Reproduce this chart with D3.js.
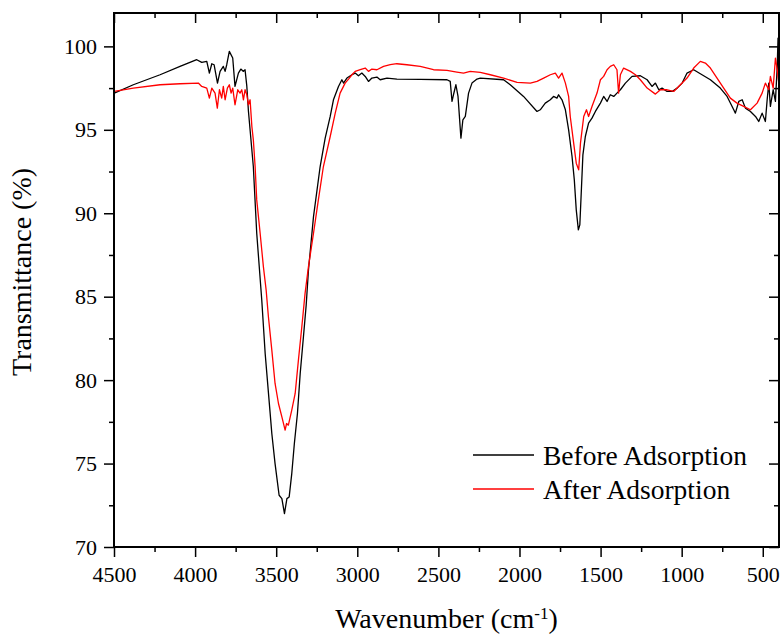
<!DOCTYPE html>
<html>
<head>
  <meta charset="utf-8">
  <title>FTIR before / after adsorption</title>
  <style>
    body { margin: 0; background: #fff; }
    svg text { font-family: "Liberation Serif", "Times New Roman", serif; fill: #000; }
  </style>
</head>
<body>
  <svg width="782" height="635"></svg>
  <script src="https://d3js.org/d3.v7.min.js"></script>
  <script>

  // 1. data: [wavenumber, transmittance]
  var beforeData = [
    [4498,97.2],[4381,97.7],[4216,98.3],[4093,98.8],[3990,99.2],[3959,99.04],[3928,99.1],[3912,98.4],
    [3897,98.96],[3883,98.9],[3862,97.8],[3846,98.5],[3826,98.8],[3815,98.5],[3805,98.9],[3789,99.7],
    [3768,99.3],[3754,97.6],[3733,98.4],[3718,98.64],[3702,98.5],[3692,98.6],[3681,97.6],[3671,96.1],
    [3641,92.8],[3620,88.8],[3589,84.8],[3568,81.6],[3538,78.1],[3527,76.8],[3507,75.0],[3482,73.1],
    [3465,72.9],[3449,72.0],[3434,72.9],[3420,73.0],[3404,74.4],[3388,76.2],[3369,78.0],[3352,80.4],
    [3332,82.6],[3315,84.5],[3301,86.6],[3270,89.8],[3229,92.8],[3198,94.5],[3167,95.8],[3147,96.8],
    [3116,97.6],[3095,98.0],[3085,97.8],[3064,98.1],[3033,98.3],[3013,98.4],[2993,98.24],[2972,98.4],
    [2951,98.2],[2931,97.9],[2910,98.1],[2879,98.16],[2859,98.0],[2817,98.1],[2756,98.04],[2612,98.02],
    [2447,98.0],[2427,97.9],[2416,96.7],[2407,97.1],[2392,97.7],[2379,97.0],[2361,94.5],[2349,95.6],
    [2334,95.8],[2314,97.2],[2293,97.8],[2262,98.04],[2242,98.1],[2098,98.0],[2057,97.7],[1975,97.0],
    [1892,96.1],[1872,96.2],[1841,96.6],[1810,96.8],[1790,97.0],[1769,96.9],[1759,97.1],[1738,96.8],
    [1717,96.2],[1697,95.0],[1676,93.4],[1662,92.0],[1650,90.2],[1637,89.0],[1628,89.3],[1618,91.5],
    [1609,93.5],[1594,94.6],[1574,95.4],[1553,95.7],[1532,96.1],[1501,96.6],[1481,97.0],[1460,96.7],
    [1440,97.1],[1419,97.0],[1399,97.2],[1378,97.4],[1347,97.8],[1306,98.2],[1255,98.24],[1213,98.0],
    [1183,97.6],[1162,97.8],[1141,97.4],[1121,97.5],[1090,97.3],[1059,97.3],[1028,97.5],[997,97.8],
    [967,98.4],[926,98.6],[885,98.36],[823,98.0],[762,97.5],[720,97.0],[679,96.2],[669,96.0],
    [648,96.7],[627,96.8],[607,96.3],[576,96.1],[545,95.8],[525,95.5],[504,96.0],[484,95.5],
    [473,96.8],[463,97.8],[453,96.4],[436,97.4],[422,96.7],[411,98.8],[406,100.5],[401,97.0]
  ];

  var afterData = [
    [4498,97.3],[4381,97.5],[4216,97.7],[4093,97.76],[3980,97.8],[3959,97.6],[3928,97.5],[3912,96.9],
    [3897,97.5],[3877,97.2],[3863,96.3],[3850,97.4],[3836,96.9],[3826,97.6],[3815,96.8],[3801,97.5],
    [3789,97.7],[3778,97.2],[3768,97.5],[3754,96.5],[3737,97.4],[3723,97.2],[3712,97.4],[3702,96.8],
    [3692,97.4],[3681,97.1],[3671,96.5],[3661,96.8],[3650,95.2],[3641,94.4],[3630,92.8],[3620,90.8],
    [3599,88.8],[3579,86.8],[3562,85.4],[3548,83.8],[3527,81.8],[3507,79.8],[3486,78.6],[3465,77.8],
    [3445,77.0],[3436,77.4],[3425,77.3],[3404,78.2],[3383,79.2],[3363,81.2],[3342,83.2],[3322,85.2],
    [3301,86.8],[3270,88.8],[3240,90.8],[3209,92.8],[3167,94.6],[3136,96.0],[3106,97.2],[3075,97.8],
    [3054,98.04],[3033,98.3],[3013,98.5],[2982,98.6],[2951,98.7],[2931,98.5],[2910,98.64],[2879,98.6],
    [2838,98.8],[2797,98.9],[2756,98.96],[2694,98.9],[2612,98.8],[2530,98.6],[2447,98.56],[2386,98.46],
    [2345,98.4],[2304,98.5],[2242,98.44],[2180,98.3],[2098,98.1],[2015,97.84],[1933,97.8],[1892,97.9],
    [1851,98.1],[1810,98.3],[1779,98.4],[1759,98.1],[1738,98.4],[1717,97.8],[1697,97.0],[1687,95.8],
    [1666,94.2],[1650,93.0],[1635,92.6],[1624,94.2],[1604,95.8],[1587,96.2],[1574,95.8],[1553,96.4],
    [1522,97.2],[1501,98.0],[1481,98.2],[1460,98.6],[1440,98.8],[1419,98.9],[1399,98.6],[1389,97.2],
    [1378,98.3],[1358,98.7],[1316,98.5],[1285,98.3],[1255,98.0],[1213,97.5],[1162,97.14],[1131,97.4],
    [1090,97.4],[1049,97.3],[1008,97.7],[967,98.1],[926,98.7],[885,99.1],[854,99.0],[823,98.7],
    [782,98.1],[741,97.5],[700,96.9],[659,96.6],[618,96.4],[576,96.2],[535,96.6],[504,97.2],
    [484,97.8],[463,97.4],[453,98.2],[436,97.5],[422,99.3],[411,98.6],[401,97.8]
  ];

  var seriesNames = ["Before Adsorption", "After Adsorption"];
  var seriesColors = ["#000000", "#ff0000"];

  var xMajor = [4500, 4000, 3500, 3000, 2500, 2000, 1500, 1000, 500];
  var xMinor = [4250, 3750, 3250, 2750, 2250, 1750, 1250, 750];
  var yMajor = [70, 75, 80, 85, 90, 95, 100];
  var yMinor = [72.5, 77.5, 82.5, 87.5, 92.5, 97.5];

  // 2. scales
  var margin = {top: 13, right: 3, bottom: 88, left: 114};
  var W = 782 - margin.left - margin.right;
  var H = 635 - margin.top - margin.bottom;

  var x = d3.scaleLinear().domain([4500, 400]).range([0, W]);
  var y = d3.scaleLinear().domain([70, 102]).range([H, 0]);

  var svg = d3.select("svg");
  var g = svg.append("g").attr("transform", "translate(" + margin.left + "," + margin.top + ")");

  g.append("clipPath").attr("id", "clip")
    .append("rect").attr("width", W).attr("height", H);

  // 3. spectra
  var line = d3.line()
    .x(function(d) { return x(d[0]); })
    .y(function(d) { return y(d[1]); });

  var plot = g.append("g").attr("clip-path", "url(#clip)");
  [beforeData, afterData].forEach(function(data, i) {
    plot.append("path")
      .datum(data)
      .attr("fill", "none")
      .attr("stroke", seriesColors[i])
      .attr("stroke-width", 1.3)
      .attr("stroke-linejoin", "round")
      .attr("d", line);
  });

  // 4. axes (outer ticks on bottom/left, inward ticks on top/right)
  function styleAxis(sel) {
    sel.attr("font-family", "Liberation Serif, Times New Roman, serif").attr("font-size", 22);
    sel.select(".domain").remove();
    sel.selectAll(".tick line").attr("stroke-width", 1.5);
  }

  g.append("g").attr("transform", "translate(0," + H + ")")
    .call(d3.axisBottom(x).tickValues(xMajor).tickSize(10).tickPadding(9).tickFormat(d3.format("d")))
    .call(styleAxis);
  g.append("g").attr("transform", "translate(0," + H + ")")
    .call(d3.axisBottom(x).tickValues(xMinor).tickSize(5).tickFormat(""))
    .call(styleAxis);
  g.append("g")
    .call(d3.axisTop(x).tickValues(xMajor).tickSize(-10).tickFormat(""))
    .call(styleAxis);
  g.append("g")
    .call(d3.axisTop(x).tickValues(xMinor).tickSize(-5).tickFormat(""))
    .call(styleAxis);

  g.append("g")
    .call(d3.axisLeft(y).tickValues(yMajor).tickSize(10).tickPadding(7).tickFormat(d3.format("d")))
    .call(styleAxis);
  g.append("g")
    .call(d3.axisLeft(y).tickValues(yMinor).tickSize(5).tickFormat(""))
    .call(styleAxis);
  g.append("g").attr("transform", "translate(" + W + ",0)")
    .call(d3.axisRight(y).tickValues(yMajor).tickSize(-10).tickFormat(""))
    .call(styleAxis);
  g.append("g").attr("transform", "translate(" + W + ",0)")
    .call(d3.axisRight(y).tickValues(yMinor).tickSize(-5).tickFormat(""))
    .call(styleAxis);

  // frame
  g.append("rect")
    .attr("width", W).attr("height", H)
    .attr("fill", "none").attr("stroke", "#000").attr("stroke-width", 2);

  // 5. axis titles
  var xt = svg.append("text")
    .attr("x", margin.left + W / 2)
    .attr("y", 628)
    .attr("text-anchor", "middle")
    .attr("font-size", 28);
  xt.append("tspan").text("Wavenumber (cm");
  xt.append("tspan").attr("baseline-shift", "super").attr("font-size", 17).text("-1");
  xt.append("tspan").text(")");

  svg.append("text")
    .attr("transform", "translate(31," + (margin.top + H / 2 - 8) + ") rotate(-90)")
    .attr("text-anchor", "middle")
    .attr("font-size", 28)
    .text("Transmittance (%)");

  // 6. legend
  var legend = svg.append("g").attr("transform", "translate(473,455)");
  seriesNames.forEach(function(name, i) {
    var row = legend.append("g").attr("transform", "translate(0," + (i * 34) + ")");
    row.append("line")
      .attr("x1", 0).attr("x2", 61)
      .attr("stroke", seriesColors[i]).attr("stroke-width", 1.3);
    row.append("text")
      .attr("x", 70).attr("y", 10)
      .attr("font-size", 27.5)
      .text(name);
  });
  </script>
</body>
</html>
